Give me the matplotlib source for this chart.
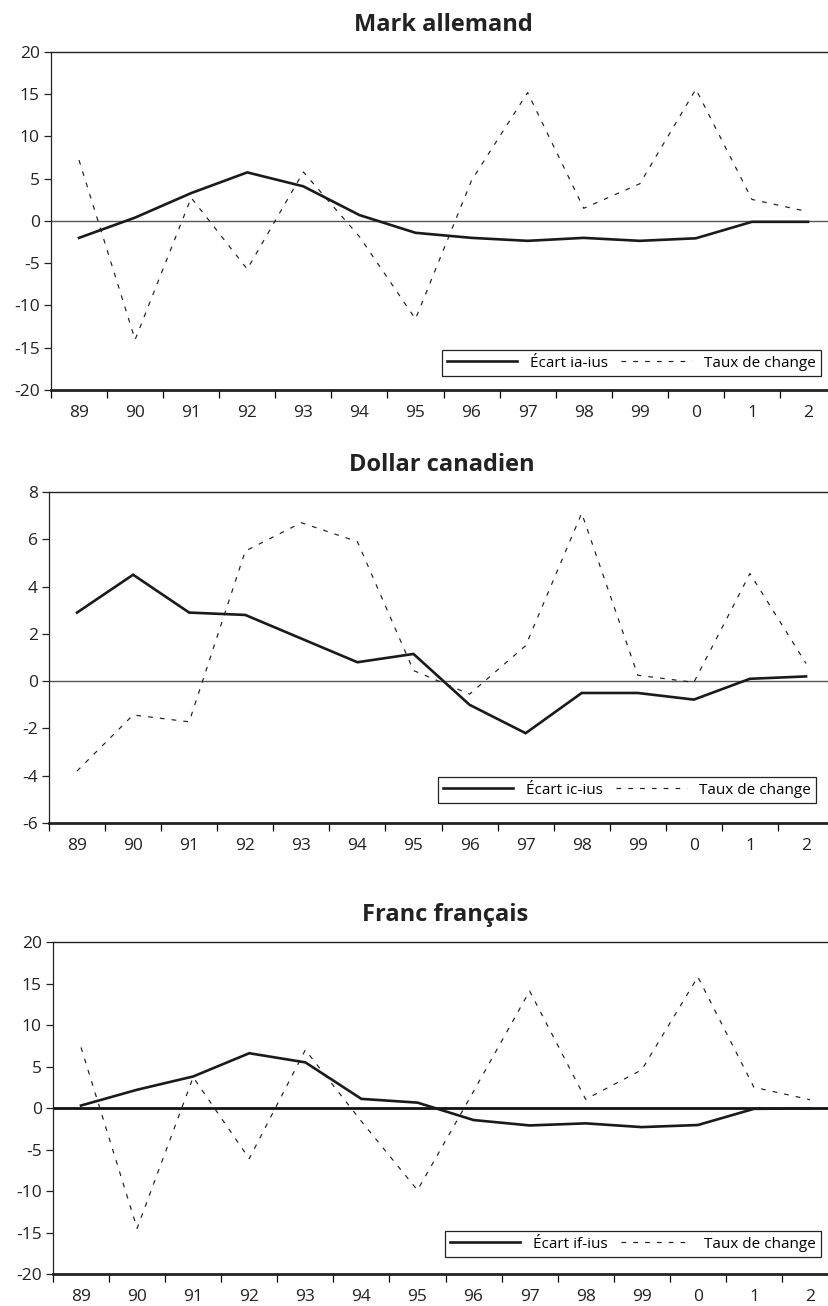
import numpy as np
import matplotlib
matplotlib.use("Agg")
import matplotlib.pyplot as plt

plt.rcParams['font.family'] = ['Open Sans', 'DejaVu Sans']
plt.rcParams['axes.unicode_minus'] = False

# -------------------------------------------------------------------------
# Data (years 1989 - 2002)
# -------------------------------------------------------------------------
years = ["89", "90", "91", "92", "93", "94", "95", "96", "97", "98", "99", "0", "1", "2"]

# Mark allemand
ecart_ia = [-2.0, 0.4, 3.3, 5.75, 4.1, 0.7, -1.4, -2.0, -2.35, -2.0, -2.35, -2.05, -0.1, -0.1]
taux_de = [7.2, -14.05, 2.75, -5.7, 5.8, -1.85, -11.6, 4.8, 15.2, 1.5, 4.4, 15.6, 2.55, 1.1]

# Dollar canadien
ecart_ic = [2.9, 4.5, 2.9, 2.8, 1.8, 0.8, 1.15, -1.0, -2.2, -0.5, -0.5, -0.78, 0.1, 0.2]
taux_ca = [-3.8, -1.43, -1.72, 5.5, 6.7, 5.9, 0.45, -0.55, 1.5, 7.1, 0.25, -0.05, 4.55, 0.75]

# Franc français
ecart_if = [0.3, 2.2, 3.8, 6.6, 5.5, 1.1, 0.65, -1.45, -2.1, -1.85, -2.3, -2.05, -0.1, -0.05]
taux_fr = [7.3, -14.5, 3.7, -6.1, 7.0, -1.6, -9.9, 2.0, 14.1, 1.05, 4.6, 15.8, 2.5, 1.0]

# -------------------------------------------------------------------------
# Panel setup: (title, solid series, dashed series, legend label,
#               y-limits, y-ticks, axes rect, legend anchor, zero line style)
# -------------------------------------------------------------------------
panels = [
    ("Mark allemand", ecart_ia, taux_de, "Écart ia-ius",
     (-20, 20), np.arange(-20, 21, 5),
     [0.0615, 0.7014, 0.947, 0.2588], (0.981, 0.041), 1.0, "#555555"),
    ("Dollar canadien", ecart_ic, taux_ca, "Écart ic-ius",
     (-6, 8), np.arange(-6, 9, 2),
     [0.0591, 0.3698, 0.947, 0.2535], (0.977, 0.060), 1.0, "#555555"),
    ("Franc français", ecart_if, taux_fr, "Écart if-ius",
     (-20, 20), np.arange(-20, 21, 5),
     [0.0639, 0.0245, 0.947, 0.2542], (0.978, 0.051), 2.0, "#111111"),
]

fig = plt.figure(figsize=(8.29, 13.06), dpi=100)
x = np.arange(len(years))

for title, solid, dashed, label, ylim, yticks, rect, anchor, zlw, zcol in panels:
    ax = fig.add_axes(rect)

    # zero reference line
    ax.axhline(0, color=zcol, lw=zlw, zorder=1)

    ax.plot(x, solid, color="#1a1a1a", lw=1.9, solid_joinstyle="miter",
            label=label, zorder=3)
    ax.plot(x, dashed, color="#1e1e1e", lw=0.85, dashes=(4, 6),
            label="Taux de change", zorder=2)

    ax.set_xlim(-0.5, len(years) - 0.5)
    ax.set_ylim(*ylim)
    ax.set_yticks(yticks)
    ax.set_yticklabels([str(v) for v in yticks])

    # year labels at centres, tick marks at category boundaries
    ax.set_xticks(x)
    ax.set_xticklabels(years)
    ax.set_xticks(np.arange(-0.5, len(years), 1), minor=True)
    ax.tick_params(axis="x", which="major", length=0, pad=11, labelsize=12.5,
                   colors="#222222")
    ax.tick_params(axis="x", which="minor", length=6, width=0.9, direction="out")
    ax.tick_params(axis="y", length=5, width=0.9, direction="out", pad=3,
                   labelsize=12.5, colors="#222222")
    ax.tick_params(axis="both", color="#222222")

    ax.spines["left"].set_linewidth(0.9)
    ax.spines["top"].set_linewidth(1.0)
    ax.spines["right"].set_visible(False)
    ax.spines["bottom"].set_linewidth(2.0)
    for s in ax.spines.values():
        s.set_color("#222222")

    ax.set_title(title, fontsize=17, fontweight="bold", pad=15, color="#222222")

    leg = ax.legend(loc="lower right", bbox_to_anchor=anchor, ncol=2,
                    frameon=True, fancybox=False, framealpha=1,
                    borderaxespad=0, fontsize=11, handlelength=4.6,
                    handletextpad=0.8, columnspacing=0.9, borderpad=0.35)
    leg.get_frame().set_edgecolor("#222222")
    leg.get_frame().set_linewidth(0.9)

plt.savefig("out.png", dpi=100)
plt.close()
